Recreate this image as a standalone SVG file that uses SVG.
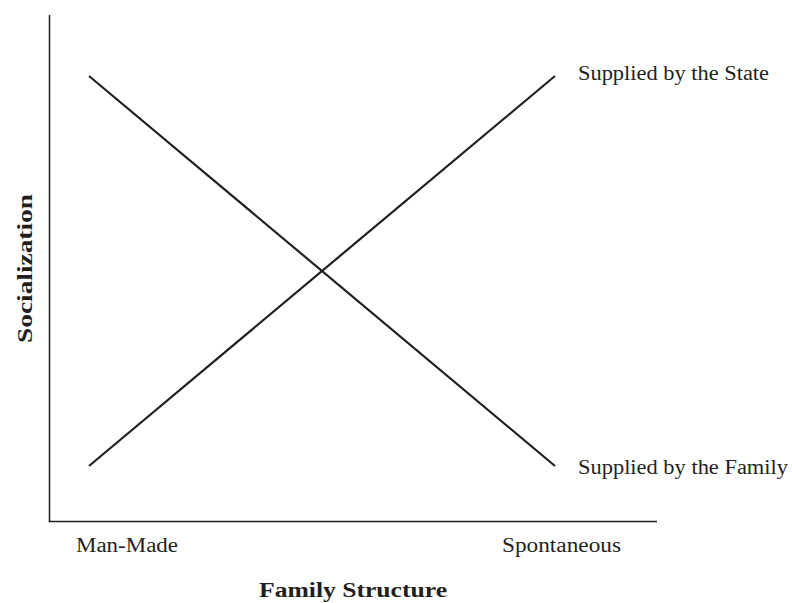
<svg xmlns="http://www.w3.org/2000/svg" width="792" height="603" viewBox="0 0 792 603">
<style>
.ax{stroke:#231f20;stroke-width:1.5;fill:none}
.ln{stroke:#231f20;stroke-width:2.2;fill:none}
.t{font-family:"Liberation Serif",serif;font-size:20px;fill:#231f20}
.b{font-family:"Liberation Serif",serif;font-size:20px;font-weight:bold;fill:#231f20}
</style>
<rect width="792" height="603" fill="#fff"/>
<g id="axes">
<line class="ax" x1="49.5" y1="15" x2="49.5" y2="521.5"/>
<line class="ax" x1="48.75" y1="521.5" x2="657" y2="521.5"/>
</g>
<g id="connectors">
<line class="ln" x1="89" y1="76" x2="555" y2="466"/>
<line class="ln" x1="89" y1="466" x2="555" y2="76"/>
</g>
<g id="label-state"><text class="t" x="578" y="80" textLength="191" lengthAdjust="spacingAndGlyphs">Supplied by the State</text></g>
<g id="label-family"><text class="t" x="578" y="474" textLength="210" lengthAdjust="spacingAndGlyphs">Supplied by the Family</text></g>
<g id="label-manmade"><text class="t" x="76" y="552" textLength="102" lengthAdjust="spacingAndGlyphs">Man-Made</text></g>
<g id="label-spontaneous"><text class="t" x="502" y="552" textLength="119" lengthAdjust="spacingAndGlyphs">Spontaneous</text></g>
<g id="xaxis-title"><text class="b" x="259" y="597" textLength="188" lengthAdjust="spacingAndGlyphs">Family Structure</text></g>
<g id="yaxis-title"><text class="b" transform="translate(32,343) rotate(-90)" textLength="149" lengthAdjust="spacingAndGlyphs">Socialization</text></g>
</svg>
